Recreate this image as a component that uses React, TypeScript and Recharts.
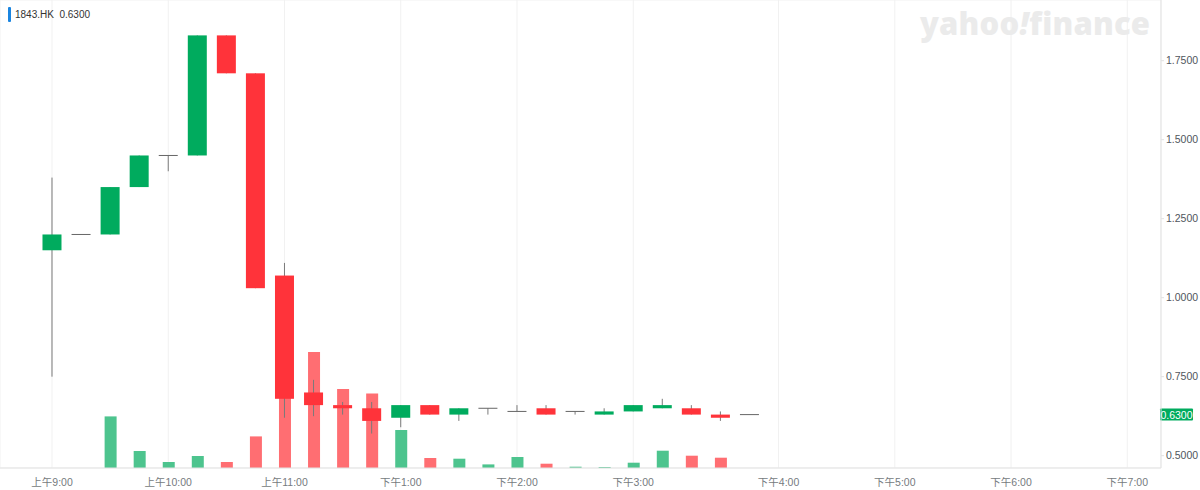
import React from 'react';
import { ComposedChart, Bar, XAxis, YAxis, CartesianGrid, ReferenceLine, Cell } from 'recharts';

// 15-minute slots from 9:00 (lunch break collapsed, 11:45 -> 13:00)
const slots = [0, 1, 2, 3, 4, 5, 6, 7, 8, 9, 10, 11, 12, 13, 14, 15, 16, 17, 18, 19, 20, 21, 22, 23, 24];
const opens = [1.15, 1.2, 1.2, 1.35, 1.45, 1.45, 1.83, 1.71, 1.07, 0.7, 0.66, 0.65, 0.62, 0.66, 0.63, 0.65, 0.64, 0.65, 0.64, 0.63, 0.64, 0.65, 0.65, 0.63, 0.63];
const closes = [1.2, 1.2, 1.35, 1.45, 1.45, 1.83, 1.71, 1.03, 0.68, 0.66, 0.65, 0.61, 0.66, 0.63, 0.65, 0.65, 0.64, 0.63, 0.64, 0.64, 0.66, 0.66, 0.63, 0.62, 0.63];
const highs = [1.38, 1.2, 1.35, 1.45, 1.45, 1.83, 1.83, 1.71, 1.11, 0.74, 0.67, 0.67, 0.66, 0.66, 0.65, 0.65, 0.66, 0.66, 0.64, 0.65, 0.66, 0.68, 0.66, 0.64, 0.63];
const lows = [0.75, 1.2, 1.2, 1.35, 1.4, 1.45, 1.71, 1.03, 0.62, 0.625, 0.63, 0.57, 0.59, 0.63, 0.61, 0.63, 0.64, 0.63, 0.63, 0.63, 0.64, 0.65, 0.63, 0.61, 0.63];
const volumes = [0, 0, 516, 170, 60, 120, 60, 316, 1400, 1160, 790, 746, 380, 100, 93, 36, 110, 43, 13, 10, 53, 173, 123, 103, 0];

const tickSlots = [0, 4, 8, 12, 16, 20, 25, 29, 33, 37];
const tickLabels = ['上午9:00', '上午10:00', '上午11:00', '下午1:00', '下午2:00', '下午3:00', '下午4:00', '下午5:00', '下午6:00', '下午7:00'];
const priceTicks = [0.5, 0.75, 1.0, 1.25, 1.5, 1.75];
const lastPrice = 0.63;

const UP = '#00ab5e';
const DOWN = '#ff333a';
const UP_VOL = '#4dc48e';
const DOWN_VOL = '#ff6e72';
const WICK = '#7a7a7a';
const FONT = "'Liberation Sans', 'Noto Sans CJK SC', sans-serif";

const data = slots.map((s, i) => ({
  slot: s,
  open: opens[i],
  close: closes[i],
  range: [lows[i], highs[i]],
  volume: volumes[i],
  up: closes[i] >= opens[i],
}));

const Candle = (props: any) => {
  const { x, y, width, height, payload } = props;
  const low = payload.range[0];
  const high = payload.range[1];
  const cx = x + width / 2;
  const ratio = high > low ? height / (high - low) : 0;
  const top = y + (high - Math.max(payload.open, payload.close)) * ratio;
  const bottom = y + (high - Math.min(payload.open, payload.close)) * ratio;
  const doji = payload.open === payload.close;
  return (
    <g>
      {height > 0 && <line x1={cx} x2={cx} y1={y} y2={y + height} stroke={WICK} strokeWidth={1} />}
      {doji ? (
        <line x1={x} x2={x + width} y1={top} y2={top} stroke="#666" strokeWidth={1} />
      ) : (
        <rect x={x} y={top} width={width} height={bottom - top} fill={payload.up ? UP : DOWN} />
      )}
    </g>
  );
};

const LastPriceLabel = (props: any) => {
  const { viewBox } = props;
  const x = viewBox.x + viewBox.width;
  const y = viewBox.y;
  return (
    <g>
      <rect x={x - 1} y={y - 6} width={33} height={12} rx={1} fill={UP} />
      <text x={x + 15.5} y={y + 4} textAnchor="middle" fill="#fff" fontSize={10.5} fontFamily={FONT}>
        {lastPrice.toFixed(4)}
      </text>
    </g>
  );
};

export default function App() {
  return (
    <div style={{ position: 'absolute', left: 0, top: 0, width: 1200, height: 490, background: '#fff' }}>
      <ComposedChart width={1200} height={490} data={data} margin={{ top: 0, right: 0, left: 0, bottom: 0 }}>
        <CartesianGrid stroke="#f1f1f1" />
        <XAxis
          type="number"
          dataKey="slot"
          domain={[-1.79, 38.16]}
          allowDataOverflow
          ticks={tickSlots}
          tickFormatter={(v) => tickLabels[tickSlots.indexOf(v)] ?? ''}
          height={22}
          axisLine={{ stroke: '#e3e3e3' }}
          tickLine={false}
          tick={{ fontSize: 10.5, fill: '#767b80', fontFamily: FONT }}
          tickMargin={5}
        />
        <XAxis xAxisId="vol" type="number" dataKey="slot" domain={[-1.79, 38.16]} allowDataOverflow hide />
        <YAxis
          yAxisId="price"
          orientation="right"
          domain={[0.461, 1.942]}
          allowDataOverflow
          ticks={priceTicks}
          tickFormatter={(v) => Number(v).toFixed(4)}
          width={39}
          axisLine={{ stroke: '#e3e3e3' }}
          tickLine={{ stroke: '#e3e3e3' }}
          tickSize={3}
          tickMargin={2}
          tick={{ fontSize: 10.5, fill: '#50565c', fontFamily: FONT }}
        />
        <YAxis yAxisId="vol" domain={[0, 4680]} allowDataOverflow hide />
        <Bar xAxisId="vol" yAxisId="vol" dataKey="volume" barSize={12} isAnimationActive={false}>
          {data.map((d, i) => (
            <Cell key={i} fill={d.up ? UP_VOL : DOWN_VOL} />
          ))}
        </Bar>
        <Bar yAxisId="price" dataKey="range" barSize={19} shape={<Candle />} isAnimationActive={false} />
        <ReferenceLine yAxisId="price" y={lastPrice} stroke="none" label={<LastPriceLabel />} />
      </ComposedChart>
      <div
        style={{
          position: 'absolute',
          left: 8,
          top: 7,
          display: 'flex',
          alignItems: 'center',
          fontFamily: FONT,
          fontSize: 10,
          color: '#333',
        }}
      >
        <span style={{ display: 'inline-block', width: 3, height: 15, background: '#1a85e0', borderRadius: 1, marginRight: 4 }} />
        1843.HK&nbsp;&nbsp;0.6300
      </div>
      <div
        style={{
          position: 'absolute',
          left: 920,
          top: 3,
          fontFamily: "'Open Sans', sans-serif",
          fontWeight: 800,
          fontSize: 31,
          letterSpacing: 0.2,
          color: '#ebebeb',
          lineHeight: '40px',
        }}
      >
        yahoo<span style={{ fontStyle: 'italic' }}>!</span>finance
      </div>
    </div>
  );
}
